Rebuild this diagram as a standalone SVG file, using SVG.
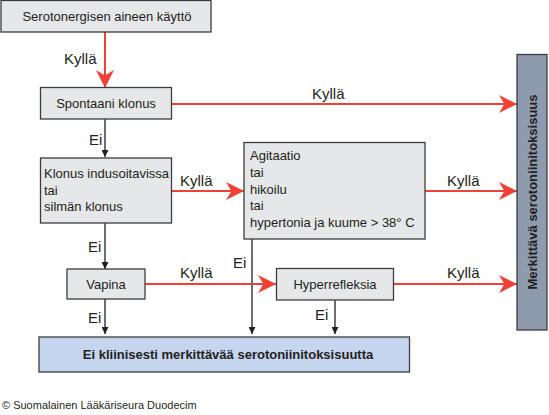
<svg xmlns="http://www.w3.org/2000/svg" width="549" height="415" viewBox="0 0 549 415">
<defs>
<style>
text{font-family:"Liberation Sans",Arial,sans-serif;fill:#231f20}
.box{fill:#e6e7e8;stroke:#3c3c3c;stroke-width:1.3}
.t{font-size:13px}
.lbl{font-size:15px}
.red{stroke:#ef4136;stroke-width:2;fill:none}
.gray{stroke:#6d6e71;stroke-width:2;fill:none}
</style>
<marker id="ag" viewBox="0 0 10 10" refX="10" refY="5" markerWidth="7" markerHeight="7" markerUnits="userSpaceOnUse" orient="auto"><path d="M0,0 L10,5 L0,10 Z" fill="#231f20"/></marker>
<marker id="arL" viewBox="0 0 10 10" refX="10" refY="5" markerWidth="18" markerHeight="18" markerUnits="userSpaceOnUse" orient="auto"><path d="M0,0 L10,5 L0,10 L3,5 Z" fill="#ef4136"/></marker>
</defs>
<rect width="549" height="415" fill="#fff"/>
<g id="connectors">
<line class="red" x1="105" y1="32" x2="105" y2="88" marker-end="url(#arL)"/>
<line class="red" x1="171" y1="104" x2="517" y2="104" marker-end="url(#arL)"/>
<line class="gray" x1="105" y1="119" x2="105" y2="157" marker-end="url(#ag)"/>
<line class="red" x1="171" y1="191" x2="244" y2="191" marker-end="url(#arL)"/>
<line class="red" x1="425" y1="191" x2="517" y2="191" marker-end="url(#arL)"/>
<line class="gray" x1="105" y1="223" x2="105" y2="269" marker-end="url(#ag)"/>
<line class="red" x1="145" y1="284" x2="276" y2="284" marker-end="url(#arL)"/>
<line class="red" x1="393" y1="284" x2="517" y2="284" marker-end="url(#arL)"/>
<line class="gray" x1="252" y1="239" x2="252" y2="334" marker-end="url(#ag)"/>
<line class="gray" x1="105" y1="299" x2="105" y2="334" marker-end="url(#ag)"/>
<line class="gray" x1="335" y1="300" x2="335" y2="334" marker-end="url(#ag)"/>
<text class="lbl" x="64" y="64">Kyllä</text>
<text class="lbl" x="312" y="99">Kyllä</text>
<text class="lbl" x="89" y="145">Ei</text>
<text class="lbl" x="180" y="186">Kyllä</text>
<text class="lbl" x="447" y="186">Kyllä</text>
<text class="lbl" x="88" y="252">Ei</text>
<text class="lbl" x="233" y="268">Ei</text>
<text class="lbl" x="180" y="278">Kyllä</text>
<text class="lbl" x="447" y="278">Kyllä</text>
<text class="lbl" x="88" y="323">Ei</text>
<text class="lbl" x="315" y="320">Ei</text>
</g>
<g id="n1"><rect class="box" x="1" y="0.5" width="210" height="31.5"/><text class="t" x="107" y="20.5" text-anchor="middle">Serotonergisen aineen käyttö</text></g>
<g id="n2"><rect class="box" x="40.5" y="87.5" width="131" height="31.5"/><text class="t" x="106" y="108" text-anchor="middle">Spontaani klonus</text></g>
<g id="n3"><rect class="box" x="40.5" y="158" width="131" height="65"/><text class="t" x="44" y="178">Klonus indusoitavissa</text><text class="t" x="44" y="194.5">tai</text><text class="t" x="44" y="211">silmän klonus</text></g>
<g id="n4"><rect class="box" x="244" y="142.5" width="181" height="96.5"/><text class="t" x="250" y="160">Agitaatio</text><text class="t" x="250" y="177">tai</text><text class="t" x="250" y="194">hikoilu</text><text class="t" x="250" y="210">tai</text><text class="t" x="250" y="227">hypertonia ja kuume &gt; 38° C</text></g>
<g id="n5"><rect class="box" x="67" y="269" width="78" height="30"/><text class="t" x="106" y="289" text-anchor="middle">Vapina</text></g>
<g id="n6"><rect class="box" x="276.5" y="268.5" width="117" height="31.5"/><text class="t" x="335" y="289" text-anchor="middle">Hyperrefleksia</text></g>
<g id="n7"><rect x="39" y="337" width="370.5" height="35" fill="#c5d5ee" stroke="#3c3c3c" stroke-width="1.3"/><text class="t" x="228" y="359" text-anchor="middle" font-weight="bold">Ei kliinisesti merkittävää serotoniinitoksisuutta</text></g>
<g id="n8"><rect x="517" y="54.5" width="30" height="275.5" fill="#8e9bae" stroke="#3c3c3c" stroke-width="1.3"/><text class="t" transform="translate(536.5,192) rotate(-90)" text-anchor="middle" font-weight="bold">Merkittävä serotoniinitoksisuus</text></g>
<text x="2" y="409" font-size="11px">© Suomalainen Lääkäriseura Duodecim</text>
</svg>
